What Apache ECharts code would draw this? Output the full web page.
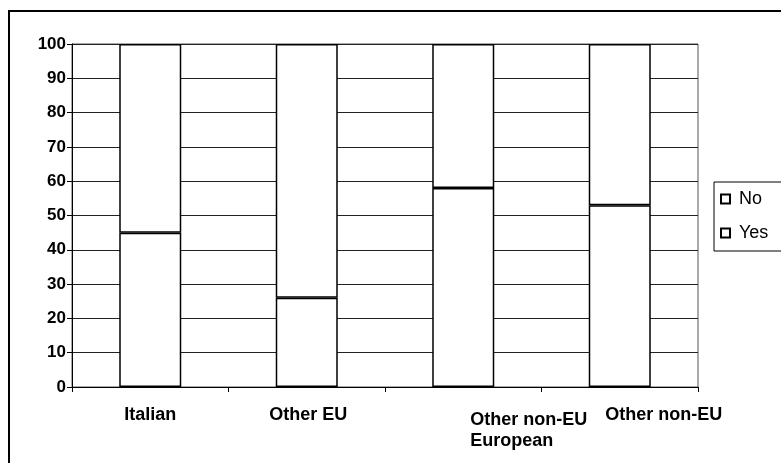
<!DOCTYPE html>
<html>
<head>
<meta charset="utf-8">
<script src="https://cdn.jsdelivr.net/npm/echarts@6/dist/echarts.min.js"></script>
<style>
  html, body { margin: 0; padding: 0; background: #fff; }
  #chart { width: 781px; height: 463px; }
</style>
</head>
<body>
<div id="chart"></div>
<script>
// Share of respondents answering yes / no, by nationality group (percent)
const categories = ['Italian', 'Other EU', 'Other non-EU\nEuropean', 'Other non-EU'];
const yesValues = [45, 26, 58, 53];
const noValues = [55, 74, 42, 47];

// Per-label placement of the category names
const labelStyles = [
  { align: 'center', padding: [0, 0, 0, 0] },
  { align: 'center', padding: [0, 0, 0, 3] },
  { align: 'left', padding: [5, 0, 0, 7] },
  { align: 'center', padding: [0, 0, 0, 88] }
];

const chart = echarts.init(document.getElementById('chart'), null, { renderer: 'canvas' });

const barStyle = { color: '#ffffff', borderColor: '#000000', borderWidth: 1.5 };

chart.setOption({
  animation: false,
  backgroundColor: '#ffffff',
  textStyle: { fontFamily: 'Liberation Sans, Arial, sans-serif' },
  graphic: [{
    type: 'rect',
    shape: { x: 9, y: 11, width: 820, height: 520 },
    style: { fill: 'none', stroke: '#000000', lineWidth: 2 },
    silent: true
  }],
  grid: {
    left: 72, right: 83, top: 44, bottom: 76,
    show: true, borderColor: '#555555', borderWidth: 1, backgroundColor: 'transparent'
  },
  legend: {
    orient: 'vertical',
    left: 714, top: 182,
    width: 90,
    data: ['No', 'Yes'],
    icon: 'rect',
    itemWidth: 9, itemHeight: 9, itemGap: 16,
    padding: [8, 40, 9, 6],
    borderColor: '#000000', borderWidth: 1,
    textStyle: {
      fontSize: 18, color: '#000000', padding: [0, 0, 0, 4],
      fontFamily: 'Liberation Sans, Arial, sans-serif'
    }
  },
  xAxis: {
    type: 'category',
    data: categories.map((c, i) => ({ value: c, textStyle: labelStyles[i] })),
    axisLine: { lineStyle: { color: '#000000', width: 1 } },
    axisTick: { show: true, length: 5, lineStyle: { color: '#000000' } },
    axisLabel: {
      interval: 0, margin: 18,
      fontSize: 18, fontWeight: 'bold', color: '#000000', lineHeight: 21,
      fontFamily: 'Liberation Sans, Arial, sans-serif'
    }
  },
  yAxis: {
    type: 'value',
    min: 0, max: 100, interval: 10,
    axisLine: { show: true, lineStyle: { color: '#000000', width: 1 } },
    axisTick: { show: true, length: 5, lineStyle: { color: '#000000' } },
    axisLabel: {
      margin: 6, fontSize: 17, fontWeight: 'bold', color: '#000000',
      fontFamily: 'Liberation Sans, Arial, sans-serif'
    },
    splitLine: { show: true, lineStyle: { color: '#222222', width: 1 } }
  },
  series: [
    {
      name: 'Yes', type: 'bar', stack: 'share', barWidth: 62,
      data: yesValues, itemStyle: barStyle
    },
    {
      name: 'No', type: 'bar', stack: 'share', barWidth: 62,
      data: noValues, itemStyle: barStyle
    }
  ]
});
</script>
</body>
</html>
